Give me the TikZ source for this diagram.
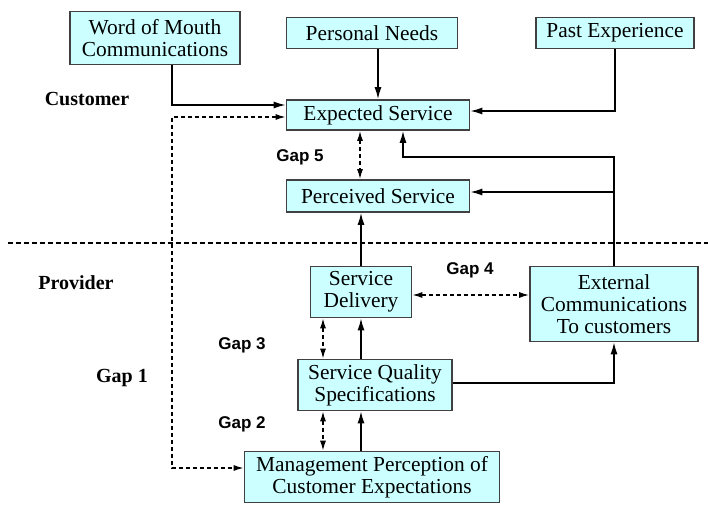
\documentclass[tikz,border=0pt]{standalone}
\usepackage{fontspec}
\setmainfont{Liberation Serif}
\newfontfamily\gapfont{Liberation Sans}
\usepackage{tikz}
\usetikzlibrary{arrows,arrows.meta,shapes}
\definecolor{boxcyan}{RGB}{204,255,255}
\tikzstyle{block}=[rectangle, draw=black!75
,fill=boxcyan
,line width=0.8pt
,align=center
,inner sep=1pt
,font=\fontsize{10.7}{11}\selectfont
]
\tikzstyle{edge} = [draw,line width=0.8pt,-{Latex[length=6pt,width=3.5pt]}]
\tikzstyle{gap edge} = [draw,line width=0.7pt,dash pattern=on 2pt off 1.5pt,{Latex[length=5pt,width=3pt]}-{Latex[length=5pt,width=3pt]}]
\tikzstyle{divider} = [draw,line width=0.7pt,dash pattern=on 2.5pt off 1.5pt]
\tikzstyle{side label} = [font=\bfseries\fontsize{10}{12}\selectfont]
\tikzstyle{gap label} = [font=\gapfont\bfseries\fontsize{8.5}{10}\selectfont]

\begin{document}
\begin{tikzpicture}[x=0.5pt,y=-0.5pt]
    \useasboundingbox (0,0) rectangle (708,508);
    % Customer side
    \node[block, minimum width=85pt, minimum height=26.5pt] (wom) at (155,38) {Word of Mouth\\Communications};
    \node[block, minimum width=85.5pt, minimum height=15.5pt] (needs) at (372,33) {Personal Needs};
    \node[block, minimum width=79pt, minimum height=15.5pt] (past) at (615,33) {Past Experience};
    \node[block, minimum width=91.5pt, minimum height=15pt] (expected) at (378,115) {Expected Service};
    \node[block, minimum width=91.5pt, minimum height=16pt] (perceived) at (378,196) {Perceived Service};

    % Provider side
    \node[block, minimum width=50.5pt, minimum height=25.5pt] (delivery) at (361,292) {Service\\Delivery};
    \node[block, minimum width=84pt, minimum height=37.5pt] (external) at (614,304) {External\\Communications\\To customers};
    \node[block, minimum width=77pt, minimum height=25.5pt] (spec) at (375,385) {Service Quality\\Specifications};
    \node[block, minimum width=127.5pt, minimum height=25.5pt] (mgmt) at (372,477) {Management Perception of\\Customer Expectations};

    % Labels
    \node[side label] (customer) at (87,99) {Customer};
    \node[side label] (provider) at (76,283) {Provider};
    \node[side label] (gap1) at (122,378) {Gap 1};
    \foreach \pos/\name/\txt in {{(300,157)/gap5/Gap 5}, {(470,270)/gap4/Gap 4}, {(242,345)/gap3/Gap 3}, {(242,424)/gap2/Gap 2}}
        \node[gap label] (\name) at \pos {\txt};

    % Divider between customer and provider
    \coordinate (div left) at (8,243);
    \coordinate (div right) at (708,243);
    \path[divider] (div left) -- (div right);

    % Axes and bends for the connectors
    \coordinate (flow axis) at (361,0);
    \coordinate (gap axis) at (323,0);
    \coordinate (gap5 axis) at (360,0);
    \coordinate (gap1 axis) at (172,300);
    \coordinate (feedback) at (403,157);
    \coordinate (perceived in) at ([yshift=2pt]perceived.east);

    % Solid connectors
    \path[edge] ([xshift=8.5pt]wom.south) |- ([yshift=5pt]expected.west);
    \path[edge] ([xshift=3pt]needs.south) -- ([xshift=3pt]needs.south |- expected.north);
    \path[edge] (past.south) |- ([yshift=2pt]expected.east);
    \path[edge] (external.north) |- (feedback) -- (feedback |- expected.south);
    \path[edge] (external.north |- perceived in) -- (perceived in);
    \foreach \source/ \dest in {mgmt/spec, spec/delivery, delivery/perceived}
        \path[edge] (flow axis |- \source.north) -- (flow axis |- \dest.south);
    \path[edge] ([yshift=1pt]spec.east) -| (external.south);

    % Gap connectors
    \path[gap edge] (gap5 axis |- expected.south) -- (gap5 axis |- perceived.north);
    \path[gap edge] ([yshift=-1.5pt]delivery.east) -- ([yshift=-1.5pt]delivery.east -| external.west);
    \path[gap edge] (gap axis |- delivery.south) -- (gap axis |- spec.north);
    \path[gap edge] (gap axis |- spec.south) -- (gap axis |- mgmt.north);
    \path[gap edge] ([yshift=-1pt]expected.west) -| (gap1 axis) |- ([yshift=4.5pt]mgmt.west);
\end{tikzpicture}
\end{document}
